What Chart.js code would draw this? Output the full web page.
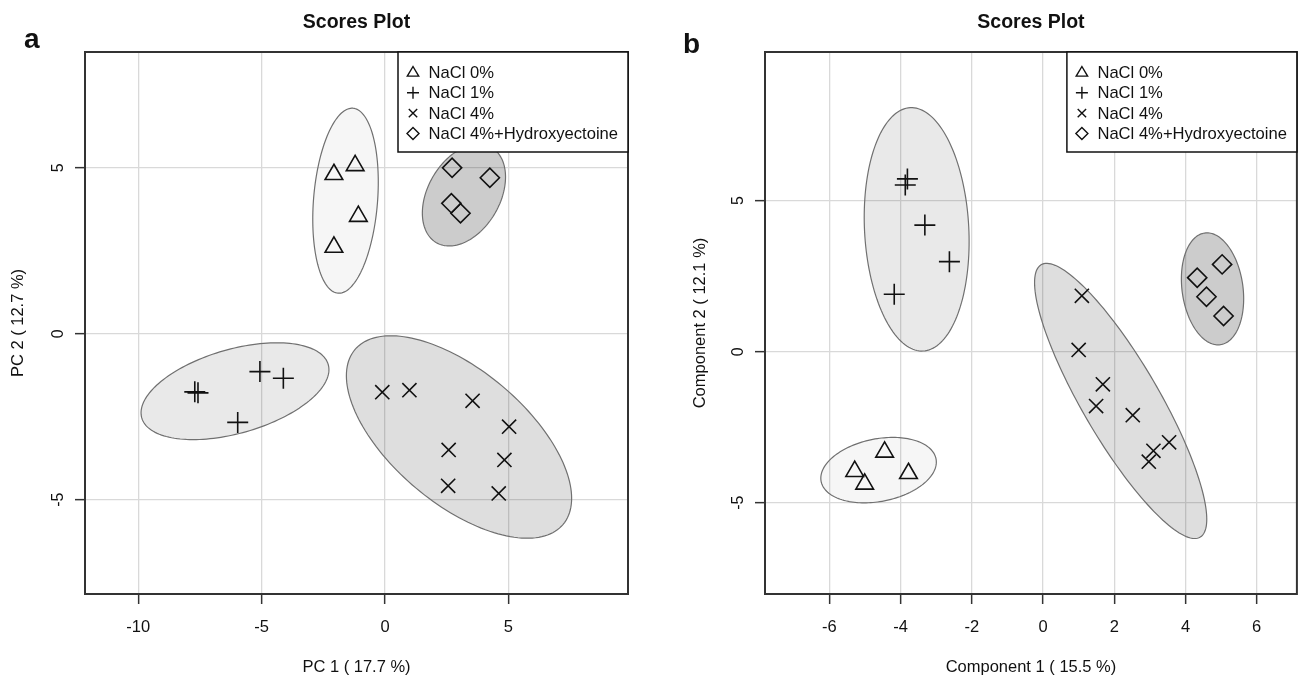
<!DOCTYPE html>
<html>
<head>
<meta charset="utf-8">
<title>Scores Plot</title>
<script src="https://cdn.jsdelivr.net/npm/chart.js@4.4.1/dist/chart.umd.min.js"></script>
<style>
  html, body { margin: 0; padding: 0; background: #fff; }
  #wrap { position: relative; width: 1309px; height: 678px; }
  .panel { position: absolute; top: 0; }
</style>
</head>
<body>
<div id="wrap">
  <div class="panel" style="left:0px"><canvas id="plotA" width="654" height="678"></canvas></div>
  <div class="panel" style="left:654px"><canvas id="plotB" width="655" height="678"></canvas></div>
</div>
<script>
var groups = ["NaCl 0%", "NaCl 1%", "NaCl 4%", "NaCl 4%+Hydroxyectoine"];

// panel a : PCA scores [PC1, PC2]
var pcaNaCl0  = [[-2.07, 4.80], [-1.21, 5.07], [-1.08, 3.54], [-2.07, 2.61]];
var pcaNaCl1  = [[-7.71, -1.75], [-7.58, -1.78], [-5.07, -1.14], [-4.12, -1.34], [-5.97, -2.67]];
var pcaNaCl4  = [[-0.11, -1.76], [0.99, -1.70], [3.55, -2.02], [5.03, -2.80], [2.58, -3.50], [4.84, -3.80], [2.56, -4.58], [4.61, -4.81]];
var pcaNaCl4H = [[2.72, 5.00], [4.25, 4.70], [2.69, 3.93], [3.06, 3.63]];
// confidence ellipses : centre x, centre y, semi axis 1 (dx, dy), semi axis 2 (dx, dy)
var pcaEllipses = [
  [-1.60, 4.01, 0.302, 2.786, -1.293, 0.077],
  [-6.08, -1.73, 3.779, 0.805, -0.469, 1.216],
  [3.00, -3.11, 4.22, -2.632, 1.741, 1.541],
  [3.20, 4.18, 1.115, 1.435, -1.264, 0.542]
];
var pcaXRange = [-12.16, 9.85];
var pcaYRange = [-7.84, 8.49];
var pcaXTicks = [-10, -5, 0, 5];
var pcaYTicks = [-5, 0, 5];

// panel b : PLS-DA scores [Component 1, Component 2]
var plsNaCl0  = [[-4.45, -3.32], [-5.29, -3.96], [-5.01, -4.38], [-3.78, -4.03]];
var plsNaCl1  = [[-3.81, 5.72], [-3.87, 5.52], [-3.32, 4.19], [-2.63, 2.98], [-4.18, 1.90]];
var plsNaCl4  = [[1.09, 1.85], [1.00, 0.06], [1.68, -1.08], [1.49, -1.80], [2.52, -2.10], [3.54, -3.00], [3.10, -3.28], [2.97, -3.64]];
var plsNaCl4H = [[5.03, 2.89], [4.33, 2.45], [4.59, 1.82], [5.07, 1.18]];
var plsEllipses = [
  [-4.62, -3.92, 1.614, 0.370, -0.162, 1.018],
  [-3.55, 4.05, -0.182, 4.027, -1.462, -0.095],
  [2.18, -1.63, -2.236, 4.506, -0.921, -0.660],
  [4.76, 2.08, -0.222, 1.848, -0.846, -0.146]
];
var plsXRange = [-7.81, 7.13];
var plsYRange = [-8.02, 9.92];
var plsXTicks = [-6, -4, -2, 0, 2, 4, 6];
var plsYTicks = [-5, 0, 5];

var FONT = "'Liberation Sans', Arial, Helvetica, sans-serif";
var symbols = ['triangle', 'cross', 'crossRot', 'rectRot'];
var symbolSize = [10.2, 10.5, 10, 9.6];
var ellipseFill = ['rgba(0,0,0,0.035)', 'rgba(0,0,0,0.085)', 'rgba(0,0,0,0.13)', 'rgba(0,0,0,0.2)'];

function toPoints(arr) {
  return arr.map(function(p) { return { x: p[0], y: p[1] }; });
}

// legend glyphs, small version of the point symbols
function glyph(ctx, kind, x, y, r) {
  ctx.beginPath();
  if (kind == 'triangle') {
    ctx.moveTo(x, y - r);
    ctx.lineTo(x + r * 0.95, y + r * 0.6);
    ctx.lineTo(x - r * 0.95, y + r * 0.6);
    ctx.closePath();
  } else if (kind == 'cross') {
    ctx.moveTo(x - r, y); ctx.lineTo(x + r, y);
    ctx.moveTo(x, y - r); ctx.lineTo(x, y + r);
  } else if (kind == 'crossRot') {
    var d = r * 0.7;
    ctx.moveTo(x - d, y - d); ctx.lineTo(x + d, y + d);
    ctx.moveTo(x - d, y + d); ctx.lineTo(x + d, y - d);
  } else {
    ctx.moveTo(x, y - r); ctx.lineTo(x + r, y); ctx.lineTo(x, y + r); ctx.lineTo(x - r, y);
    ctx.closePath();
  }
  ctx.stroke();
}

function decor(p) {
  return {
    id: 'decor',
    beforeDatasetsDraw: function(chart) {
      var ctx = chart.ctx, xs = chart.scales.x, ys = chart.scales.y, ca = chart.chartArea;
      ctx.save();
      ctx.beginPath();
      ctx.rect(ca.left, ca.top, ca.right - ca.left, ca.bottom - ca.top);
      ctx.clip();
      p.ellipses.forEach(function(e, i) {
        ctx.beginPath();
        for (var k = 0; k <= 160; k++) {
          var t = k / 160 * 2 * Math.PI;
          var vx = e[0] + Math.cos(t) * e[2] + Math.sin(t) * e[4];
          var vy = e[1] + Math.cos(t) * e[3] + Math.sin(t) * e[5];
          var px = xs.getPixelForValue(vx), py = ys.getPixelForValue(vy);
          if (k == 0) ctx.moveTo(px, py); else ctx.lineTo(px, py);
        }
        ctx.closePath();
        ctx.fillStyle = ellipseFill[i];
        ctx.fill();
        ctx.strokeStyle = '#707070';
        ctx.lineWidth = 1.2;
        ctx.stroke();
      });
      ctx.restore();
    },
    afterDraw: function(chart) {
      var ctx = chart.ctx, ys = chart.scales.y, ca = chart.chartArea;
      var cx = (ca.left + ca.right) / 2, cy = (ca.top + ca.bottom) / 2;
      ctx.save();

      // frame
      ctx.strokeStyle = '#333';
      ctx.lineWidth = 2;
      ctx.strokeRect(ca.left, ca.top, ca.right - ca.left, ca.bottom - ca.top);

      ctx.fillStyle = '#111';
      // title
      ctx.font = 'bold 19.5px ' + FONT;
      ctx.textAlign = 'center';
      ctx.textBaseline = 'middle';
      ctx.fillText('Scores Plot', cx, 23);

      // panel letter
      ctx.font = 'bold 28px ' + FONT;
      ctx.textAlign = 'left';
      ctx.textBaseline = 'alphabetic';
      ctx.fillText(p.letter, p.letterX, p.letterY);

      // x axis title
      ctx.font = '16.5px ' + FONT;
      ctx.textAlign = 'center';
      ctx.textBaseline = 'middle';
      ctx.fillText(p.xTitle, cx, 667);

      // y tick labels and y title, rotated like R
      ctx.font = '16px ' + FONT;
      ys.ticks.forEach(function(t) {
        var y = ys.getPixelForValue(t.value);
        ctx.save();
        ctx.translate(p.yTickX, y);
        ctx.rotate(-Math.PI / 2);
        ctx.fillText(String(t.value), 0, 0);
        ctx.restore();
      });
      ctx.font = '16.5px ' + FONT;
      ctx.save();
      ctx.translate(p.yTitleX, cy);
      ctx.rotate(-Math.PI / 2);
      ctx.fillText(p.yTitle, 0, 0);
      ctx.restore();

      // legend box
      var lw = 230, lh = 100;
      var lx = ca.right - lw, ly = ca.top;
      ctx.fillStyle = '#fff';
      ctx.fillRect(lx, ly, lw, lh);
      ctx.strokeStyle = '#111';
      ctx.lineWidth = 1.5;
      ctx.strokeRect(lx, ly, lw, lh);
      ctx.font = '16.6px ' + FONT;
      ctx.textAlign = 'left';
      ctx.fillStyle = '#111';
      groups.forEach(function(g, i) {
        var y = ly + 20.5 + i * 20.3;
        ctx.lineWidth = 1.4;
        glyph(ctx, symbols[i], lx + 15, y, 6);
        ctx.fillText(g, lx + 30.5, y + 1);
      });
      ctx.restore();
    }
  };
}

function makeChart(id, p) {
  var sets = p.series.map(function(s, i) {
    return {
      label: groups[i],
      data: toPoints(s),
      pointStyle: symbols[i],
      pointRadius: symbolSize[i],
      pointHoverRadius: symbolSize[i],
      borderColor: '#111',
      backgroundColor: 'rgba(0,0,0,0)',
      pointBorderWidth: 1.6
    };
  });
  return new Chart(document.getElementById(id), {
    type: 'scatter',
    data: { datasets: sets },
    options: {
      responsive: false,
      animation: false,
      layout: { padding: { left: 0, top: 52, right: p.padRight, bottom: 0 } },
      plugins: { legend: { display: false }, tooltip: { enabled: false }, title: { display: false } },
      scales: {
        x: {
          type: 'linear',
          min: p.xRange[0], max: p.xRange[1],
          afterBuildTicks: function(s) { s.ticks = p.xTicks.map(function(v) { return { value: v }; }); },
          afterFit: function(s) { s.height = 84; },
          border: { display: false },
          grid: { color: '#d9d9d9', lineWidth: 1.3, tickColor: '#333', tickLength: 10, tickWidth: 1.5 },
          ticks: { font: { family: FONT, size: 16.5 }, color: '#111', padding: 14, maxRotation: 0 }
        },
        y: {
          type: 'linear',
          min: p.yRange[0], max: p.yRange[1],
          afterBuildTicks: function(s) { s.ticks = p.yTicks.map(function(v) { return { value: v }; }); },
          afterFit: function(s) { s.width = p.axisLeft; },
          border: { display: false },
          grid: { color: '#d9d9d9', lineWidth: 1.3, tickColor: '#333', tickLength: 10, tickWidth: 1.5 },
          ticks: { display: false }
        }
      }
    },
    plugins: [decor(p)]
  });
}

makeChart('plotA', {
  series: [pcaNaCl0, pcaNaCl1, pcaNaCl4, pcaNaCl4H],
  ellipses: pcaEllipses,
  xRange: pcaXRange, yRange: pcaYRange, xTicks: pcaXTicks, yTicks: pcaYTicks,
  axisLeft: 85, padRight: 26,
  letter: 'a', letterX: 24, letterY: 48,
  xTitle: 'PC 1 ( 17.7 %)', yTitle: 'PC 2 ( 12.7 %)',
  yTickX: 59, yTitleX: 18
});

makeChart('plotB', {
  series: [plsNaCl0, plsNaCl1, plsNaCl4, plsNaCl4H],
  ellipses: plsEllipses,
  xRange: plsXRange, yRange: plsYRange, xTicks: plsXTicks, yTicks: plsYTicks,
  axisLeft: 111, padRight: 2.5,
  letter: 'b', letterX: 29, letterY: 53,
  xTitle: 'Component 1 ( 15.5 %)', yTitle: 'Component 2 ( 12.1 %)',
  yTickX: 85, yTitleX: 46
});
</script>
</body>
</html>
